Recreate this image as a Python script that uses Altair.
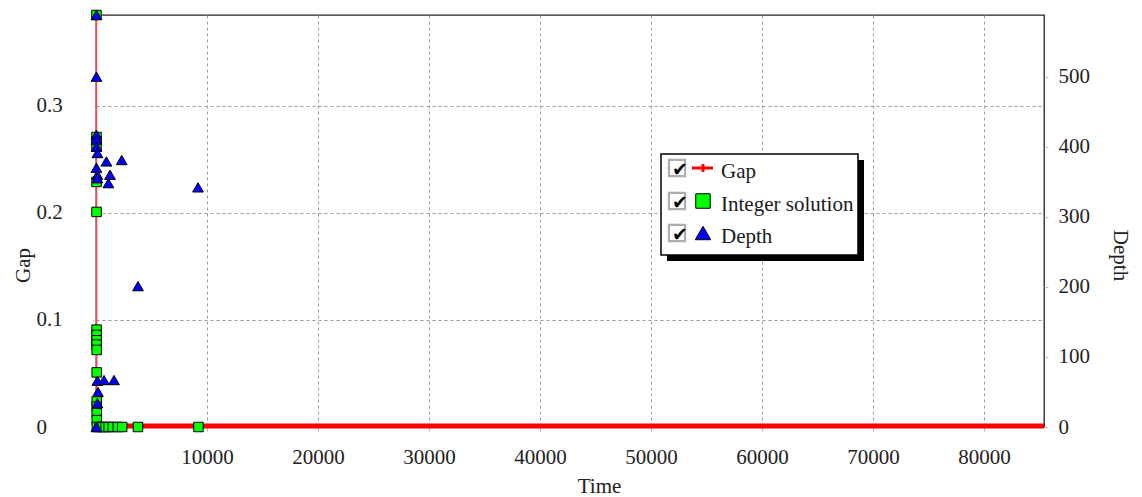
import altair as alt
import pandas as pd

FONT = "Liberation Serif"

# Optimality gap over time (seconds)
gap_time = [40, 42, 44, 46, 48, 50, 52, 54, 56, 58, 60, 62, 64, 66, 68, 70, 75, 85400]
gap_value = [0.385, 0.271, 0.267, 0.262, 0.229, 0.201, 0.091, 0.086, 0.081, 0.077,
             0.072, 0.051, 0.024, 0.019, 0.013, 0.0065, 0.0, 0.0]

# Times at which a new integer solution was found, with the gap at that moment
int_time = [40, 42, 44, 46, 48, 50, 52, 54, 56, 58, 60, 62, 64, 66, 68, 70, 75,
            330, 600, 870, 1140, 1510, 1960, 2360, 3780, 9230]
int_gap = [0.385, 0.271, 0.267, 0.262, 0.229, 0.201, 0.091, 0.086, 0.081, 0.077,
           0.072, 0.051, 0.024, 0.019, 0.013, 0.0065, 0.0,
           0.0, 0.0, 0.0, 0.0, 0.0, 0.0, 0.0, 0.0, 0.0]

# Search-tree depth samples
depth_time = [40, 40, 40, 40, 40, 126, 937, 2316, 40, 126, 1261, 126, 1117, 9190,
              3784, 126, 721, 1622, 180, 126, 40]
depth_value = [588, 500, 417, 410, 400, 391, 379, 381, 370, 360, 360, 355, 348, 342,
               201, 66, 67, 67, 50, 34, 0]

x_ticks = [10000, 20000, 30000, 40000, 50000, 60000, 70000, 80000]
gap_ticks = [0, 0.1, 0.2, 0.3]
depth_ticks = [0, 100, 200, 300, 400, 500]
legend_labels = ["Gap", "Integer solution", "Depth"]

gap_df = pd.DataFrame({"time": gap_time, "gap": gap_value})
int_df = pd.DataFrame({"time": int_time, "gap": int_gap})
depth_df = pd.DataFrame({"time": depth_time, "depth": depth_value})

x_enc = alt.X(
    "time:Q",
    scale=alt.Scale(domain=[0, 85400], nice=False, zero=False),
    axis=alt.Axis(
        title="Time", values=x_ticks, format="d", grid=True,
        gridDash=[3, 3], gridColor="#9a9a9a", gridWidth=1,
        tickSize=4, tickColor="#bbbbbb", domain=False,
        labelBaseline="alphabetic", labelPadding=32, labelFlush=False,
        titleX=503, titleY=65, titleBaseline="alphabetic",
    ),
)

gap_y = alt.Y(
    "gap:Q",
    scale=alt.Scale(domain=[0, 0.385], nice=False),
    axis=alt.Axis(
        title="Gap", values=gap_ticks, format=".1~f", grid=True,
        gridDash=[3, 3], gridColor="#9a9a9a", gridWidth=1,
        tickSize=3, tickColor="#bbbbbb", domain=False,
        labelAlign="left", labelBaseline="middle", labelPadding=57,
        titleAngle=-90, titleX=-67, titleY=250, titleBaseline="alphabetic",
        titleAlign="center",
    ),
)

depth_y = alt.Y(
    "depth:Q",
    scale=alt.Scale(domain=[0, 588], nice=False),
    axis=alt.Axis(
        title="Depth", orient="right", values=depth_ticks, grid=False,
        tickSize=4, tickColor="#bbbbbb", domain=False,
        labelAlign="left", labelBaseline="middle", labelPadding=10,
        titleAngle=90, titleX=75, titleY=240, titleBaseline="middle",
        titleAlign="center",
    ),
)

gap_line = alt.Chart(gap_df).mark_line(color="#ff4545", strokeWidth=1.5).encode(
    x=x_enc, y=gap_y
)
gap_band = (
    alt.Chart(gap_df)
    .transform_filter("datum.gap == 0")
    .mark_line(color="#ff0000", strokeWidth=5, yOffset=-1)
    .encode(x=x_enc, y=gap_y)
)
squares = alt.Chart(int_df).mark_point(
    shape="square", filled=True, fill="#00ff00", stroke="#000000",
    strokeWidth=1, size=90, opacity=1,
).encode(x=x_enc, y=gap_y)

triangles = alt.Chart(depth_df).mark_point(
    shape="triangle-up", filled=True, fill="#0000ff", stroke="#000000",
    strokeWidth=1, size=115, opacity=1,
).encode(x=x_enc, y=depth_y)

gap_group = alt.layer(gap_line, gap_band, squares)
plot = alt.layer(gap_group, triangles).resolve_scale(y="independent")

# Legend box drawn in plot coordinates
one = pd.DataFrame({"k": [0]})
legend_layers = [
    alt.Chart(one).mark_rect(fill="#000000").encode(
        x=alt.value(571), x2=alt.value(768), y=alt.value(145), y2=alt.value(246)
    ),
    alt.Chart(one).mark_rect(fill="#ffffff", stroke="#000000", strokeWidth=1.5).encode(
        x=alt.value(565), x2=alt.value(762), y=alt.value(139), y2=alt.value(240)
    ),
]
row_icon_y = [153, 186, 218]
row_text_y = [163, 195.5, 228]
for i, label in enumerate(legend_labels):
    cy = row_icon_y[i]
    legend_layers.append(
        alt.Chart(one).mark_point(
            shape="square", filled=False, stroke="#8c8c8c", strokeWidth=2.2, size=260
        ).encode(x=alt.value(581), y=alt.value(cy))
    )
    legend_layers.append(
        alt.Chart(one).mark_text(
            text="\u2714", font="DejaVu Sans", fontSize=19, color="#000000",
            align="center", baseline="middle",
        ).encode(x=alt.value(584), y=alt.value(cy + 2))
    )
    legend_layers.append(
        alt.Chart(one).mark_text(
            text=label, font=FONT, fontSize=21, color="#1a1a1a",
            align="left", baseline="alphabetic",
        ).encode(x=alt.value(625), y=alt.value(row_text_y[i]))
    )

legend_layers += [
    alt.Chart(one).mark_rule(color="#ff0000", strokeWidth=3).encode(
        x=alt.value(596), x2=alt.value(617), y=alt.value(row_icon_y[0])
    ),
    alt.Chart(one).mark_rule(color="#ff0000", strokeWidth=3).encode(
        x=alt.value(607), y=alt.value(row_icon_y[0] - 4), y2=alt.value(row_icon_y[0] + 4)
    ),
    alt.Chart(one).mark_point(
        shape="square", filled=True, fill="#00ff00", stroke="#000000",
        strokeWidth=1, size=210, opacity=1,
    ).encode(x=alt.value(607), y=alt.value(row_icon_y[1])),
    alt.Chart(one).mark_point(
        shape="triangle-up", filled=True, fill="#0000ff", stroke="#000000",
        strokeWidth=1, size=240, opacity=1,
    ).encode(x=alt.value(607), y=alt.value(row_icon_y[2])),
]

chart = (
    alt.layer(plot, *legend_layers)
    .properties(
        width=948, height=412, autosize="none",
        padding={"left": 96, "top": 15, "right": 98, "bottom": 70},
    )
    .configure_view(stroke="#222222", strokeWidth=1.3)
    .configure_axis(
        labelFont=FONT, titleFont=FONT, labelFontSize=21, titleFontSize=21,
        labelColor="#222222", titleColor="#222222", titleFontWeight="normal",
    )
)

chart.save("out.html", embed_options={"renderer": "svg", "actions": False})
